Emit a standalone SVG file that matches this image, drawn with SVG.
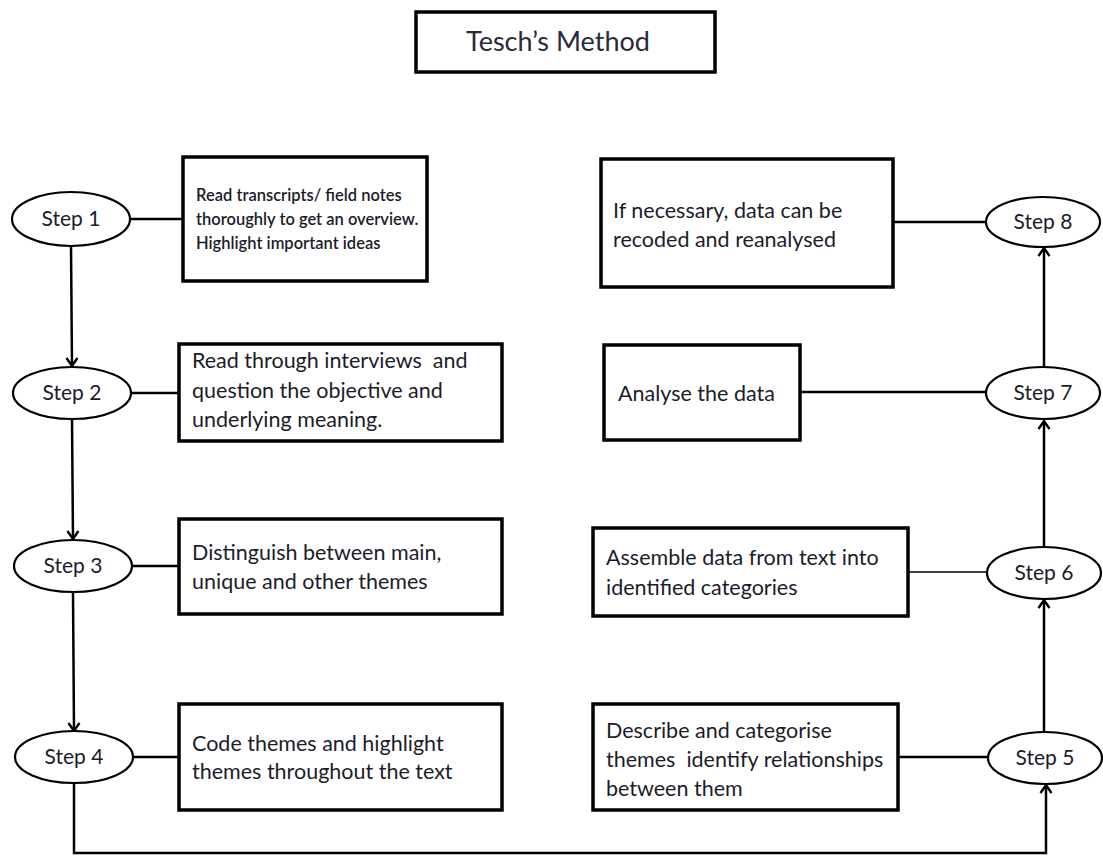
<svg xmlns="http://www.w3.org/2000/svg" width="1103" height="856" viewBox="0 0 1103 856">
<style>
  .box { fill: #fff; stroke: #000; stroke-width: 3.5; }
  .ell { fill: #fff; stroke: #000; stroke-width: 2.2; }
  .t { font-family: Lato, "Liberation Sans", sans-serif; fill: #1c1c2a; font-size: 21.5px; white-space: pre; }
  .small { font-size: 16.5px; font-weight: 600; }
  .lbl { font-family: Lato, "Liberation Sans", sans-serif; fill: #1c1c2a; font-size: 21px; text-anchor: middle; }
  .title { font-family: Lato, "Liberation Sans", sans-serif; fill: #2a2a3a; font-size: 27px; }
  .c { fill: none; stroke: #000; stroke-width: 2.5; }
  .thin { stroke-width: 1.6; }
</style>
<defs>
  <marker id="arr" markerWidth="14" markerHeight="14" refX="11" refY="7" orient="auto" markerUnits="userSpaceOnUse">
    <path d="M3,1.5 L11,7 L3,12.5" fill="none" stroke="#000" stroke-width="2.4"/>
  </marker>
</defs>
<rect width="1103" height="856" fill="#fff"/>

<g id="title">
  <rect class="box" x="416" y="12" width="299" height="60"/>
  <text class="title" x="466" y="51">Tesch’s Method</text>
</g>

<g id="connectors">
  <line class="c" x1="130" y1="219" x2="183" y2="219"/>
  <line class="c" x1="132" y1="393" x2="179" y2="393"/>
  <line class="c" x1="133" y1="566" x2="179" y2="566"/>
  <line class="c" x1="133" y1="757" x2="179" y2="757"/>
  <line class="c" x1="71" y1="246" x2="72" y2="366" marker-end="url(#arr)"/>
  <line class="c" x1="72" y1="419" x2="73" y2="539" marker-end="url(#arr)"/>
  <line class="c" x1="73" y1="593" x2="74" y2="731" marker-end="url(#arr)"/>
  <polyline class="c" points="74,783 74,853 1046,853 1046,785" marker-end="url(#arr)"/>
  <line class="c" x1="1044" y1="732" x2="1044" y2="600" marker-end="url(#arr)"/>
  <line class="c" x1="1044" y1="547" x2="1044" y2="421" marker-end="url(#arr)"/>
  <line class="c" x1="1044" y1="367" x2="1044" y2="248" marker-end="url(#arr)"/>
  <line class="c" x1="893" y1="222" x2="986" y2="222"/>
  <line class="c" x1="800" y1="392" x2="986" y2="392"/>
  <line class="c thin" x1="908" y1="572" x2="986" y2="572"/>
  <line class="c" x1="898" y1="757" x2="988" y2="757"/>
</g>

<g id="step1">
  <ellipse class="ell" cx="71" cy="219" rx="59" ry="27"/>
  <text class="lbl" x="71" y="226">Step 1</text>
</g>
<g id="box1">
  <rect class="box" x="183" y="157" width="244" height="124"/>
  <text class="t small" x="196" y="201">Read transcripts/ field notes</text>
  <text class="t small" x="196" y="225">thoroughly to get an overview.</text>
  <text class="t small" x="196" y="249">Highlight important ideas</text>
</g>

<g id="step2">
  <ellipse class="ell" cx="72" cy="393" rx="59" ry="26"/>
  <text class="lbl" x="72" y="400">Step 2</text>
</g>
<g id="box2">
  <rect class="box" x="179" y="344" width="323" height="97"/>
  <text class="t" x="192" y="368" xml:space="preserve">Read through interviews  and</text>
  <text class="t" x="192" y="398">question the objective and</text>
  <text class="t" x="192" y="427">underlying meaning.</text>
</g>

<g id="step3">
  <ellipse class="ell" cx="73" cy="566" rx="59" ry="26"/>
  <text class="lbl" x="73" y="573">Step 3</text>
</g>
<g id="box3">
  <rect class="box" x="179" y="519" width="323" height="95"/>
  <text class="t" x="192" y="560">Distinguish between main,</text>
  <text class="t" x="192" y="589">unique and other themes</text>
</g>

<g id="step4">
  <ellipse class="ell" cx="74" cy="757" rx="59" ry="26"/>
  <text class="lbl" x="74" y="764">Step 4</text>
</g>
<g id="box4">
  <rect class="box" x="179" y="704" width="323" height="106"/>
  <text class="t" x="192" y="751">Code themes and highlight</text>
  <text class="t" x="192" y="779">themes throughout the text</text>
</g>

<g id="step5">
  <ellipse class="ell" cx="1045" cy="758" rx="57" ry="26"/>
  <text class="lbl" x="1045" y="765">Step 5</text>
</g>
<g id="box5">
  <rect class="box" x="593" y="704" width="305" height="106"/>
  <text class="t" x="606" y="738">Describe and categorise</text>
  <text class="t" x="606" y="767" xml:space="preserve">themes  identify relationships</text>
  <text class="t" x="606" y="796">between them</text>
</g>

<g id="step6">
  <ellipse class="ell" cx="1044" cy="573" rx="57" ry="26"/>
  <text class="lbl" x="1044" y="580">Step 6</text>
</g>
<g id="box6">
  <rect class="box" x="593" y="528" width="315" height="88"/>
  <text class="t" x="606" y="565">Assemble data from text into</text>
  <text class="t" x="606" y="595">identified categories</text>
</g>

<g id="step7">
  <ellipse class="ell" cx="1043" cy="393" rx="57" ry="26"/>
  <text class="lbl" x="1043" y="400">Step 7</text>
</g>
<g id="box7">
  <rect class="box" x="604" y="345" width="196" height="95"/>
  <text class="t" x="618" y="401">Analyse the data</text>
</g>

<g id="step8">
  <ellipse class="ell" cx="1043" cy="222" rx="57" ry="25"/>
  <text class="lbl" x="1043" y="229">Step 8</text>
</g>
<g id="box8">
  <rect class="box" x="601" y="159" width="292" height="128"/>
  <text class="t" x="613" y="218">If necessary, data can be</text>
  <text class="t" x="613" y="247">recoded and reanalysed</text>
</g>
</svg>
